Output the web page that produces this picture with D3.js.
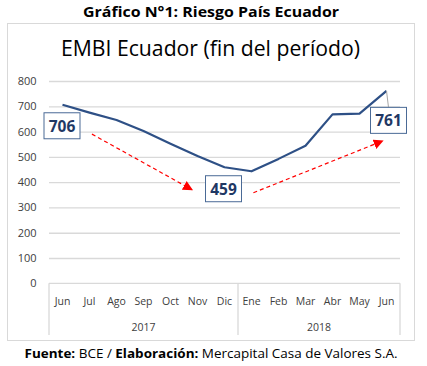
<!DOCTYPE html>
<html>
<head>
<meta charset="utf-8">
<script src="https://cdn.jsdelivr.net/npm/d3@7"></script>
<style>
  body { margin: 0; background: #fff; }
  svg text { font-family: "Open Sans", "Noto Sans", sans-serif; }
</style>
</head>
<body>
<div id="chart"></div>
<script>
// ------------------------------------------------------------
// Data
// ------------------------------------------------------------
var months = ["Jun", "Jul", "Ago", "Sep", "Oct", "Nov", "Dic", "Ene", "Feb", "Mar", "Abr", "May", "Jun"];
var years = ["2017", "2017", "2017", "2017", "2017", "2017", "2017", "2018", "2018", "2018", "2018", "2018", "2018"];
var embi = [706, 675, 646, 602, 552, 503, 459, 443, 492, 544, 668, 671, 761];
var yTicks = [0, 100, 200, 300, 400, 500, 600, 700, 800];

// highlighted points (index into embi)
var callouts = [0, 6, 12];

// ------------------------------------------------------------
// Layout
// ------------------------------------------------------------
var W = 427, H = 366;
var plot = {left: 49, right: 400, top: 81, bottom: 283.3};
var lineColor = "#2E5086";
var gridColor = "#D9D9D9";
var textColor = "#404040";

var svg = d3.select("#chart").append("svg")
    .attr("width", W).attr("height", H);

var defs = svg.append("defs");
defs.append("marker")
    .attr("id", "arrow")
    .attr("viewBox", "0 0 10 10")
    .attr("refX", 9).attr("refY", 5)
    .attr("markerWidth", 10).attr("markerHeight", 10)
    .attr("markerUnits", "userSpaceOnUse")
    .attr("orient", "auto")
    .append("path")
    .attr("d", "M0,0 L10,5 L0,10 Z")
    .attr("fill", "#FF0000");

// Top title
svg.append("text")
    .attr("x", 211).attr("y", 17)
    .attr("text-anchor", "middle")
    .attr("font-size", 15).attr("font-weight", "bold")
    .attr("fill", "#000")
    .attr("textLength", 256).attr("lengthAdjust", "spacingAndGlyphs")
    .text("Gráfico N°1: Riesgo País Ecuador");

// Chart frame
svg.append("rect")
    .attr("x", 7.5).attr("y", 23.5)
    .attr("width", 407).attr("height", 317)
    .attr("fill", "#fff").attr("stroke", gridColor).attr("stroke-width", 1);

// Chart title
svg.append("text")
    .attr("x", 210.5).attr("y", 56)
    .attr("text-anchor", "middle")
    .attr("font-size", 21).attr("font-weight", 500)
    .attr("fill", "#000")
    .attr("textLength", 299).attr("lengthAdjust", "spacingAndGlyphs")
    .text("EMBI Ecuador (fin del período)");

// Scales
var x = d3.scaleBand()
    .domain(d3.range(months.length))
    .range([plot.left, plot.right]);

var y = d3.scaleLinear()
    .domain([0, 800])
    .range([plot.bottom, plot.top]);

// Y grid
svg.append("g")
    .attr("class", "grid")
    .attr("transform", "translate(" + plot.left + ",0)")
    .call(d3.axisLeft(y)
        .tickValues(yTicks.filter(function(v) { return v > 0; }))
        .tickSize(-(plot.right - plot.left))
        .tickFormat(""))
    .call(function(g) {
        g.select(".domain").remove();
        g.selectAll("line").attr("stroke", gridColor).attr("stroke-width", 1.3);
    });

// Y labels
svg.append("g")
    .attr("transform", "translate(" + plot.left + ",0)")
    .call(d3.axisLeft(y).tickValues(yTicks).tickSize(0).tickPadding(12.5))
    .call(function(g) {
        g.select(".domain").remove();
        g.selectAll("text")
            .attr("font-size", 11)
            .attr("fill", textColor)
            .style("font-family", "'Open Sans', sans-serif");
    });

// X axis line
svg.append("line")
    .attr("x1", plot.left).attr("x2", plot.right)
    .attr("y1", y(0)).attr("y2", y(0))
    .attr("stroke", gridColor).attr("stroke-width", 1.3);

// X group dividers (start, year change, end)
var dividers = [0];
years.forEach(function(yr, i) { if (i > 0 && yr !== years[i - 1]) dividers.push(i); });
dividers.push(months.length);
dividers.forEach(function(i) {
    var xp = i < months.length ? x(i) : x(months.length - 1) + x.bandwidth();
    svg.append("line")
        .attr("x1", xp).attr("x2", xp)
        .attr("y1", y(0)).attr("y2", 335)
        .attr("stroke", gridColor).attr("stroke-width", 1.3);
});

// Month labels
svg.append("g").selectAll("text")
    .data(months)
    .join("text")
    .attr("x", function(d, i) { return x(i) + x.bandwidth() / 2; })
    .attr("y", 305)
    .attr("text-anchor", "middle")
    .attr("font-size", 10.5)
    .attr("fill", textColor)
    .text(function(d) { return d; });

// Year labels
var yearGroups = d3.groups(years.map(function(yr, i) { return {yr: yr, i: i}; }), function(d) { return d.yr; });
svg.append("g").selectAll("text")
    .data(yearGroups)
    .join("text")
    .attr("x", function(g) {
        var a = x(g[1][0].i), b = x(g[1][g[1].length - 1].i) + x.bandwidth();
        return (a + b) / 2;
    })
    .attr("y", 331)
    .attr("text-anchor", "middle")
    .attr("font-size", 10.5)
    .attr("fill", textColor)
    .text(function(g) { return g[0]; });

// Line
svg.append("path")
    .datum(embi)
    .attr("fill", "none")
    .attr("stroke", lineColor)
    .attr("stroke-width", 2.2)
    .attr("stroke-linejoin", "round")
    .attr("d", d3.line()
        .x(function(d, i) { return x(i) + x.bandwidth() / 2; })
        .y(function(d) { return y(d); }));

// Red dashed arrows (from -> to, in category index / value units)
var arrows = [
    {from: [1.59, 590], to: [5.3, 370]},
    {from: [7.57, 358], to: [12.36, 563]}
];
arrows.forEach(function(a) {
    svg.append("line")
        .attr("x1", plot.left + a.from[0] * x.bandwidth())
        .attr("y1", y(a.from[1]))
        .attr("x2", plot.left + a.to[0] * x.bandwidth())
        .attr("y2", y(a.to[1]))
        .attr("stroke", "#FF0000")
        .attr("stroke-width", 1.2)
        .attr("stroke-dasharray", "4,3")
        .attr("marker-end", "url(#arrow)");
});

// Data label callouts
var boxOffset = {0: {dx: -0.5, dy: 21}, 6: {dx: -1, dy: 21.5}, 12: {dx: 2, dy: 29.5}};
callouts.forEach(function(i) {
    var px = x(i) + x.bandwidth() / 2, py = y(embi[i]);
    var cx = px + boxOffset[i].dx, cy = py + boxOffset[i].dy;
    if (i === 12) {
        svg.append("line")
            .attr("x1", px).attr("y1", py)
            .attr("x2", cx).attr("y2", cy - 13)
            .attr("stroke", "#A6A6A6").attr("stroke-width", 1);
    }
    svg.append("rect")
        .attr("x", cx - 18).attr("y", cy - 13)
        .attr("width", 36).attr("height", 26)
        .attr("fill", "#fff")
        .attr("stroke", "#4A6A96").attr("stroke-width", 1);
    svg.append("text")
        .attr("x", cx).attr("y", cy + 5.8)
        .attr("text-anchor", "middle")
        .attr("font-size", 15.5).attr("font-weight", "bold")
        .attr("fill", "#1F3864")
        .text(embi[i]);
});

// Footer
var foot = svg.append("text")
    .attr("x", 211).attr("y", 358)
    .attr("text-anchor", "middle")
    .attr("font-size", 12)
    .attr("fill", "#000")
    .attr("textLength", 373).attr("lengthAdjust", "spacingAndGlyphs");
foot.append("tspan").attr("font-weight", "bold").text("Fuente:");
foot.append("tspan").text(" BCE / ");
foot.append("tspan").attr("font-weight", "bold").text("Elaboración:");
foot.append("tspan").text(" Mercapital Casa de Valores S.A.");
</script>
</body>
</html>
